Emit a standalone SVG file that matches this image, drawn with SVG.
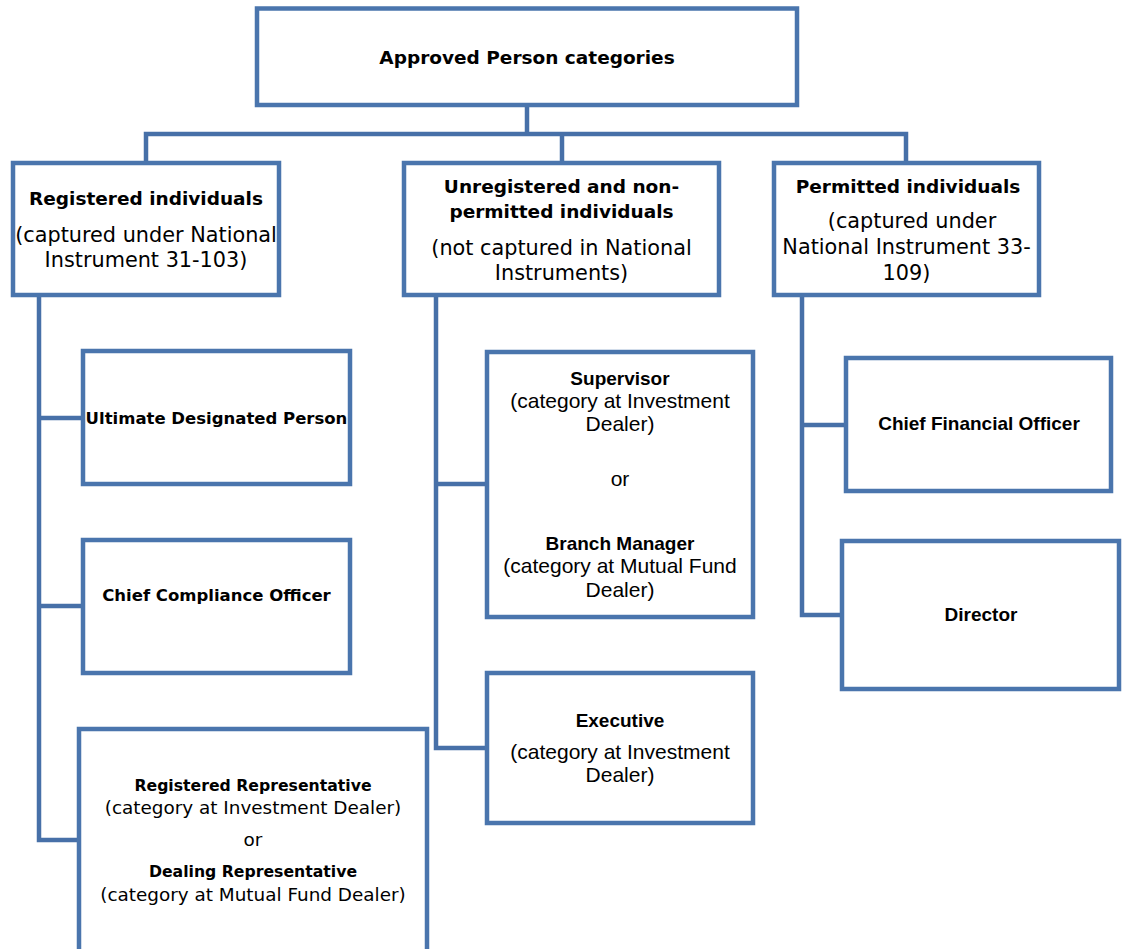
<svg xmlns="http://www.w3.org/2000/svg" width="1122" height="949" viewBox="0 0 1122 949">
<style>
.box{fill:#fff;stroke:#4a75ad;stroke-width:4.5}
.conn{fill:none;stroke:#4770a8;stroke-width:4.5;stroke-linejoin:miter}
text{fill:#000;text-anchor:middle}
.w{font-family:"DejaVu Sans",sans-serif}
.c{font-family:"Liberation Sans",Arial,sans-serif}
.hb{font-weight:bold;font-size:18.5px}
.hr{font-size:20.8px}
.ib{font-weight:bold;font-size:16.5px}
.rb{font-weight:bold;font-size:15.7px}
.rr{font-size:18.4px}
.cb{font-weight:bold;font-size:19px}
.cr{font-size:21px}
</style>
<rect width="1122" height="949" fill="#fff"/>
<g id="connectors">
<path class="conn" d="M527 105 V134"/>
<path class="conn" d="M146 163 V134 H906 V163"/>
<path class="conn" d="M562 134 V163"/>
<path class="conn" d="M39 295 V840 H79"/>
<path class="conn" d="M39 418 H83"/>
<path class="conn" d="M39 606 H83"/>
<path class="conn" d="M436 295 V748 H487"/>
<path class="conn" d="M436 484 H487"/>
<path class="conn" d="M802 295 V615 H842"/>
<path class="conn" d="M802 425 H846"/>
</g>
<g id="root">
<rect class="box" x="257" y="8.5" width="540" height="96.5"/>
<text class="w hb" x="527" y="64">Approved Person categories</text>
</g>
<g id="registered">
<rect class="box" x="13" y="163" width="266" height="132"/>
<text class="w hb" x="146" y="205">Registered individuals</text>
<text class="w hr" x="146" y="241.5">(captured under National</text>
<text class="w hr" x="146" y="267">Instrument 31-103)</text>
</g>
<g id="unregistered">
<rect class="box" x="404" y="163" width="315" height="132"/>
<text class="w hb" x="561.5" y="192.5">Unregistered and non-</text>
<text class="w hb" x="561.5" y="218">permitted individuals</text>
<text class="w hr" x="561.5" y="254.5">(not captured in National</text>
<text class="w hr" x="561.5" y="280">Instruments)</text>
</g>
<g id="permitted">
<rect class="box" x="774" y="163" width="265" height="132"/>
<text class="w hb" x="908" y="192.5">Permitted individuals</text>
<text class="w hr" x="912" y="228">(captured under</text>
<text class="w hr" x="906.5" y="254">National Instrument 33-</text>
<text class="w hr" x="906.5" y="279.5">109)</text>
</g>
<g id="udp">
<rect class="box" x="83" y="351" width="267" height="133"/>
<text class="w ib" x="216.5" y="424">Ultimate Designated Person</text>
</g>
<g id="cco">
<rect class="box" x="83" y="540" width="267" height="133"/>
<text class="w ib" x="216.5" y="601">Chief Compliance Officer</text>
</g>
<g id="rep">
<rect class="box" x="79" y="729" width="348" height="230"/>
<text class="w rb" x="253" y="790.5">Registered Representative</text>
<text class="w rr" x="253" y="814">(category at Investment Dealer)</text>
<text class="w rr" x="253" y="846">or</text>
<text class="w rb" x="253" y="877">Dealing Representative</text>
<text class="w rr" x="253" y="900.5">(category at Mutual Fund Dealer)</text>
</g>
<g id="supervisor">
<rect class="box" x="487" y="352" width="266" height="265"/>
<text class="c cb" x="620" y="385">Supervisor</text>
<text class="c cr" x="620" y="408">(category at Investment</text>
<text class="c cr" x="620" y="431">Dealer)</text>
<text class="c cr" x="620" y="486">or</text>
<text class="c cb" x="620" y="550">Branch Manager</text>
<text class="c cr" x="620" y="573">(category at Mutual Fund</text>
<text class="c cr" x="620" y="597">Dealer)</text>
</g>
<g id="executive">
<rect class="box" x="487" y="673" width="266" height="150"/>
<text class="c cb" x="620" y="727">Executive</text>
<text class="c cr" x="620" y="759">(category at Investment</text>
<text class="c cr" x="620" y="782">Dealer)</text>
</g>
<g id="cfo">
<rect class="box" x="846" y="358" width="265" height="133"/>
<text class="c cb" x="979" y="430">Chief Financial Officer</text>
</g>
<g id="director">
<rect class="box" x="842" y="541" width="277" height="148"/>
<text class="c cb" x="981" y="621">Director</text>
</g>
</svg>
